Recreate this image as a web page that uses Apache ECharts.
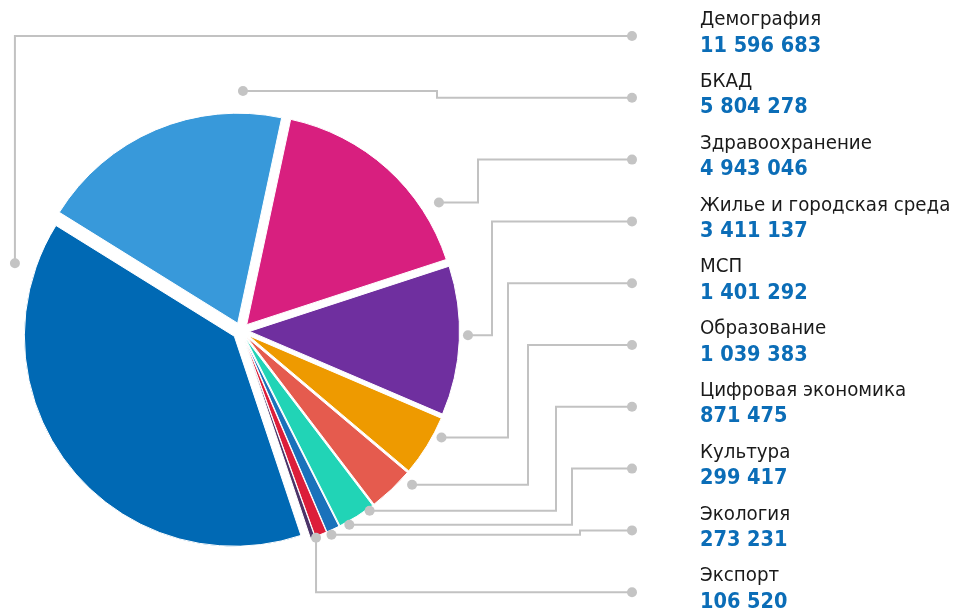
<!DOCTYPE html>
<html>
<head>
<meta charset="utf-8">
<script src="https://cdn.jsdelivr.net/npm/echarts@6/dist/echarts.min.js"></script>
<style>
  html, body { margin: 0; padding: 0; background: #fff; }
  #chart { width: 956px; height: 610px; }
</style>
</head>
<body>
<div id="chart"></div>
<script>
const categories = ['Демография', 'БКАД', 'Здравоохранение', 'Жилье и городская среда', 'МСП', 'Образование', 'Цифровая экономика', 'Культура', 'Экология', 'Экспорт']
const values = [11596683, 5804278, 4943046, 3411137, 1401292, 1039383, 871475, 299417, 273231, 106520]
const colors = ['#0069b4', '#3899da', '#d81f7f', '#6f2f9f', '#ee9a00', '#e55b4e', '#21d4b6', '#1a72bb', '#dc1e3a', '#4b3469']

// геометрия пирога (px)
const CX = 241
const CY = 331
const R = 210
const PULL = 8.5
const START = -71.5
// колонка подписей
const LABEL_X = 700
const NAME_Y = 20
const LABEL_STEP = 61.8
const DOT_X = 632
const FONT = '"DejaVu Sans Condensed", "DejaVu Sans", sans-serif'
// где выноска поворачивает вертикально (null - сразу от точки на секторе)
const bendX = [null, 437, 478, 492, 508, 528, 556, 572, 580, null]
// сдвиг точки выноски от середины сектора, градусы (+ против часовой)
const anchorShift = [-55, -23.5, -15, 1.5, 3.7, 4.5, 3.6, 4.3, 2.5, 0.8]
const anchorGap = [26, 30, 26, 17, 17, 20, 11, 12, 13, 10]

const fmt = (v) => String(v).replace(/\B(?=(\d{3})+(?!\d))/g, ' ')

// выноски считаются по тем же углам, что и сектора
const total = values.reduce((a, b) => a + b, 0)
let acc = 0
const leaders = values.map((v, i) => {
  const a0 = START - (acc / total) * 360
  acc += v
  const a1 = START - (acc / total) * 360
  const ang = (((a0 + a1) / 2 + anchorShift[i]) * Math.PI) / 180
  const r = R + anchorGap[i]
  const ax = CX + r * Math.cos(ang)
  const ay = CY - r * Math.sin(ang)
  const dotY = NAME_Y + LABEL_STEP * i + 16
  const pts = bendX[i] == null
    ? [[ax, ay], [ax, dotY], [DOT_X, dotY]]
    : [[ax, ay], [bendX[i], ay], [bendX[i], dotY], [DOT_X, dotY]]
  return { ax, ay, dotY, pts }
})

const graphics = []
leaders.forEach((l, i) => {
  graphics.push({
    type: 'polyline',
    shape: { points: l.pts },
    style: { stroke: '#c2c2c2', lineWidth: 2, fill: null },
    z: 5,
  })
  graphics.push({ type: 'circle', shape: { cx: l.ax, cy: l.ay, r: 5 }, style: { fill: '#c4c4c4' }, z: 6 })
  graphics.push({ type: 'circle', shape: { cx: DOT_X, cy: l.dotY, r: 5 }, style: { fill: '#c4c4c4' }, z: 6 })
  const y = NAME_Y + LABEL_STEP * i
  graphics.push({
    type: 'text',
    x: LABEL_X,
    y: y,
    style: {
      text: categories[i],
      fontFamily: FONT,
      fontSize: 20.3,
      fill: '#1a1a1a',
      align: 'left',
      verticalAlign: 'middle',
    },
    z: 6,
  })
  graphics.push({
    type: 'text',
    x: LABEL_X,
    y: y + 26,
    style: {
      text: fmt(values[i]),
      fontFamily: FONT,
      fontSize: 21.5,
      fontWeight: 'bold',
      fill: '#0b6db7',
      align: 'left',
      verticalAlign: 'middle',
    },
    z: 6,
  })
})

const myChart = echarts.init(document.getElementById('chart'))
const option = {
  animation: false,
  graphic: graphics,
  series: [
    {
      type: 'pie',
      center: [CX, CY],
      radius: R,
      startAngle: START,
      clockwise: true,
      selectedMode: 'multiple',
      selectedOffset: PULL,
      data: categories.map((name, i) => ({
        name,
        value: values[i],
        selected: true,
        itemStyle: { color: colors[i] },
      })),
      itemStyle: { borderColor: '#fff', borderWidth: 1 },
      select: { itemStyle: { borderColor: '#fff', borderWidth: 1 } },
      emphasis: { disabled: true },
      label: { show: false },
      labelLine: { show: false },
    },
  ],
}
myChart.setOption(option)
</script>
</body>
</html>
